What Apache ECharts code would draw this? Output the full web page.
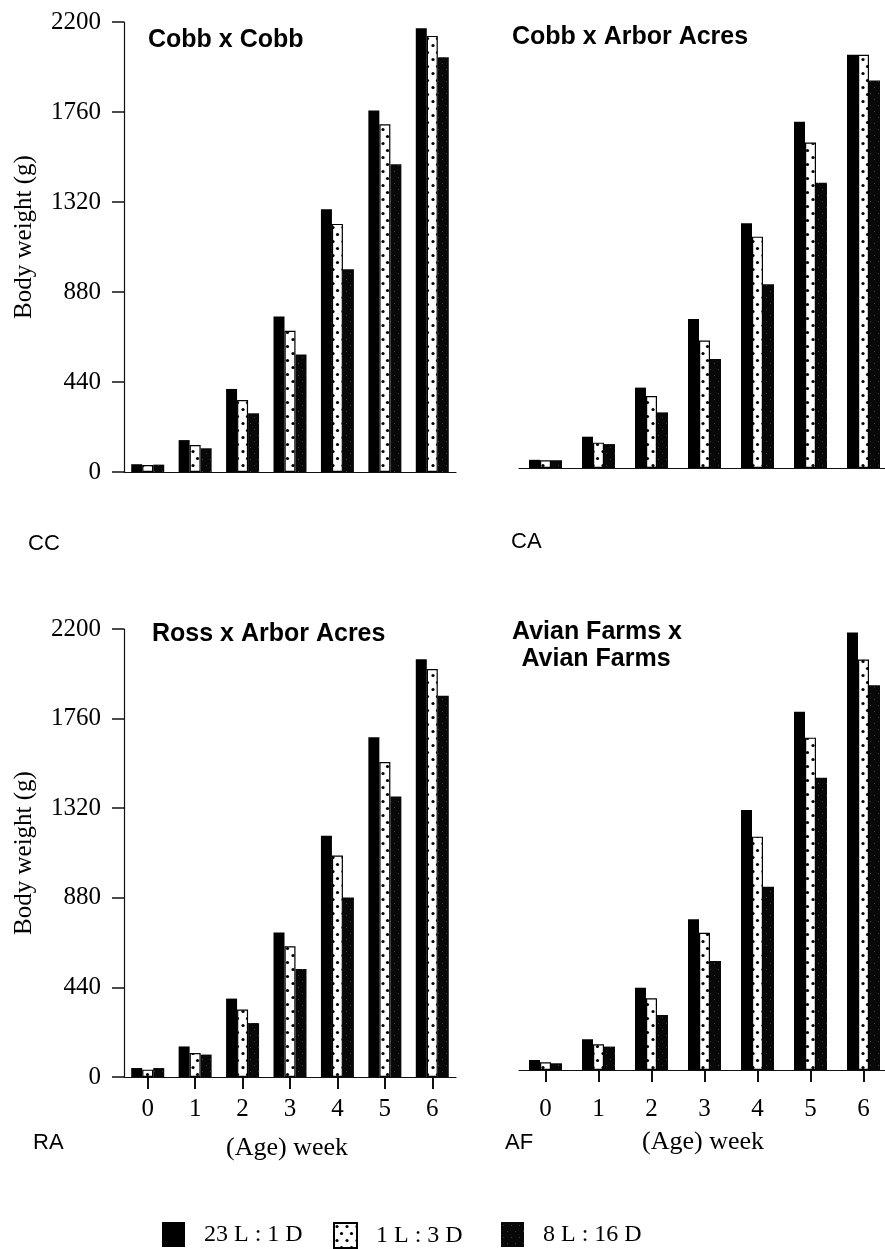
<!DOCTYPE html>
<html>
<head>
<meta charset="utf-8">
<script src="https://cdn.jsdelivr.net/npm/echarts@6/dist/echarts.min.js"></script>
<style>
html,body{margin:0;padding:0;background:#fff;}
#chart{width:885px;height:1249px;}
</style>
</head>
<body>
<div id="chart"></div>
<script>
// ---- data ----
const weeks = ['0', '1', '2', '3', '4', '5', '6'];
const yTicks = [0, 440, 880, 1320, 1760, 2200];
const seriesNames = ['23 L : 1 D', '1 L : 3 D', '8 L : 16 D'];

const CC_23L = [38, 156, 406, 760, 1284, 1767, 2170];
const CC_1L  = [34, 132, 352, 690, 1213, 1700, 2132];
const CC_8L  = [36, 116, 287, 575,  991, 1504, 2028];

const CA_23L = [40, 153, 393, 729, 1197, 1693, 2020];
const CA_1L  = [38, 124, 352, 623, 1131, 1591, 2020];
const CA_8L  = [38, 117, 272, 533,  898, 1395, 1894];

const RA_23L = [44, 150, 385, 710, 1185, 1669, 2052];
const RA_1L  = [36, 118, 331, 642, 1088, 1547, 2003];
const RA_8L  = [44, 110, 265, 530,  882, 1378, 1872];

const AF_23L = [49, 151, 404, 740, 1277, 1759, 2149];
const AF_1L  = [38, 126, 352, 674, 1146, 1632, 2016];
const AF_8L  = [33, 115, 270, 535,  900, 1435, 1890];

const panelTitles = ['Cobb x Cobb', 'Cobb x Arbor Acres', 'Ross x Arbor Acres', 'Avian Farms x', 'Avian Farms'];
const panelCodes = ['CC', 'CA', 'RA', 'AF'];
const yName = 'Body weight (g)';
const xName = '(Age) week';

// ---- patterns ----
const dotCanvas = document.createElement('canvas');
dotCanvas.width = 10; dotCanvas.height = 14;
(function(){
  const c = dotCanvas.getContext('2d');
  c.fillStyle = '#fff'; c.fillRect(0,0,10,14);
  c.fillStyle = '#000';
  c.beginPath(); c.arc(3,3.5,1.6,0,Math.PI*2); c.fill();
  c.beginPath(); c.arc(7.5,10.5,1.6,0,Math.PI*2); c.fill();
})();
const darkCanvas = document.createElement('canvas');
darkCanvas.width = 8; darkCanvas.height = 12;
(function(){
  const c = darkCanvas.getContext('2d');
  c.fillStyle = '#080808'; c.fillRect(0,0,8,12);
  c.fillStyle = '#3a3a3a';
  c.fillRect(2,3,1,1); c.fillRect(6,9,1,1);
})();

const styles = [
  { color: '#000' },
  { color: { image: dotCanvas, repeat: 'repeat' }, borderColor: '#000', borderWidth: 1.2 },
  { color: { image: darkCanvas, repeat: 'repeat' } }
];

const panelData = [
  [CC_23L, CC_1L, CC_8L],
  [CA_23L, CA_1L, CA_8L],
  [RA_23L, RA_1L, RA_8L],
  [AF_23L, AF_1L, AF_8L]
];

const serif = 'Liberation Serif';
const sans = 'Liberation Sans';

const grids = [
  { left: 124, top: 22,  width: 332, height: 450 },
  { left: 519, top: 18,  width: 371, height: 450 },
  { left: 124, top: 629, width: 332, height: 448 },
  { left: 519, top: 622, width: 371, height: 448 }
].map(g => Object.assign({ containLabel: false, outerBoundsMode: 'none' }, g));

const axisLineStyle = { color: '#111', width: 1.2 };

const xAxes = grids.map((g, i) => ({
  type: 'category',
  gridIndex: i,
  data: weeks,
  boundaryGap: true,
  axisLine: { show: true, lineStyle: axisLineStyle },
  axisTick: { show: i >= 2, alignWithLabel: true, length: 12, lineStyle: { color: '#111', width: 2 } },
  axisLabel: { show: i >= 2, fontFamily: serif, fontSize: 25, color: '#000', margin: i === 2 ? 20 : 27 }
}));

const yAxes = grids.map((g, i) => ({
  type: 'value',
  gridIndex: i,
  min: 0, max: 2200, interval: 440,
  show: i === 0 || i === 2,
  splitLine: { show: false },
  axisLine: { show: true, lineStyle: axisLineStyle },
  axisTick: { show: true, length: 12, lineStyle: { color: '#111', width: 1.5 } },
  axisLabel: { fontFamily: serif, fontSize: 25, color: '#000', margin: 23,
    formatter: v => String(v) }
}));

const series = [];
panelData.forEach((arrs, p) => {
  arrs.forEach((d, k) => {
    series.push({
      type: 'bar',
      name: seriesNames[k],
      xAxisIndex: p, yAxisIndex: p,
      data: d,
      barWidth: 11,
      barGap: '0%',
      itemStyle: styles[k],
      silent: true
    });
  });
});

const legendLefts = [157, 328, 496];
const legends = seriesNames.map((n, k) => ({
  data: [n],
  left: legendLefts[k],
  top: 1217,
  orient: 'horizontal',
  icon: 'rect',
  itemWidth: 23,
  itemHeight: 25,
  selectedMode: false,
  textStyle: { fontFamily: serif, fontSize: 24, color: '#000', padding: [0, 0, 0, 14] }
}));

function txt(text, x, y, font, size, opts) {
  return Object.assign({
    type: 'text', x: x, y: y, silent: true,
    style: Object.assign({ text: text, fontFamily: font, fontSize: size, fill: '#000',
      align: 'left', verticalAlign: 'middle' }, (opts && opts.style) || {})
  }, (opts && opts.el) || {});
}

const graphics = [
  txt(yName, 24, 237, serif, 25, { el: { rotation: Math.PI / 2 }, style: { align: 'center' } }),
  txt(yName, 24, 853, serif, 25, { el: { rotation: Math.PI / 2 }, style: { align: 'center' } }),
  txt(panelTitles[0], 148, 40, sans, 25, { style: { fontWeight: 'bold' } }),
  txt(panelTitles[1], 512, 37, sans, 25, { style: { fontWeight: 'bold' } }),
  txt(panelTitles[2], 152, 634, sans, 25, { style: { fontWeight: 'bold' } }),
  txt(panelTitles[3], 597, 632, sans, 25, { style: { fontWeight: 'bold', align: 'center' } }),
  txt(panelTitles[4], 596, 659, sans, 25, { style: { fontWeight: 'bold', align: 'center' } }),
  txt(panelCodes[0], 28, 544, sans, 22),
  txt(panelCodes[1], 511, 542, sans, 22),
  txt(panelCodes[2], 33, 1143, sans, 22),
  txt(panelCodes[3], 505, 1143, sans, 22),
  txt(xName, 287, 1148, serif, 26, { style: { align: 'center' } }),
  txt(xName, 703, 1142, serif, 26, { style: { align: 'center' } })
];

const chart = echarts.init(document.getElementById('chart'), null, { renderer: 'canvas' });
chart.setOption({
  animation: false,
  backgroundColor: '#fff',
  grid: grids,
  xAxis: xAxes,
  yAxis: yAxes,
  legend: legends,
  series: series,
  graphic: graphics
});
</script>
</body>
</html>
